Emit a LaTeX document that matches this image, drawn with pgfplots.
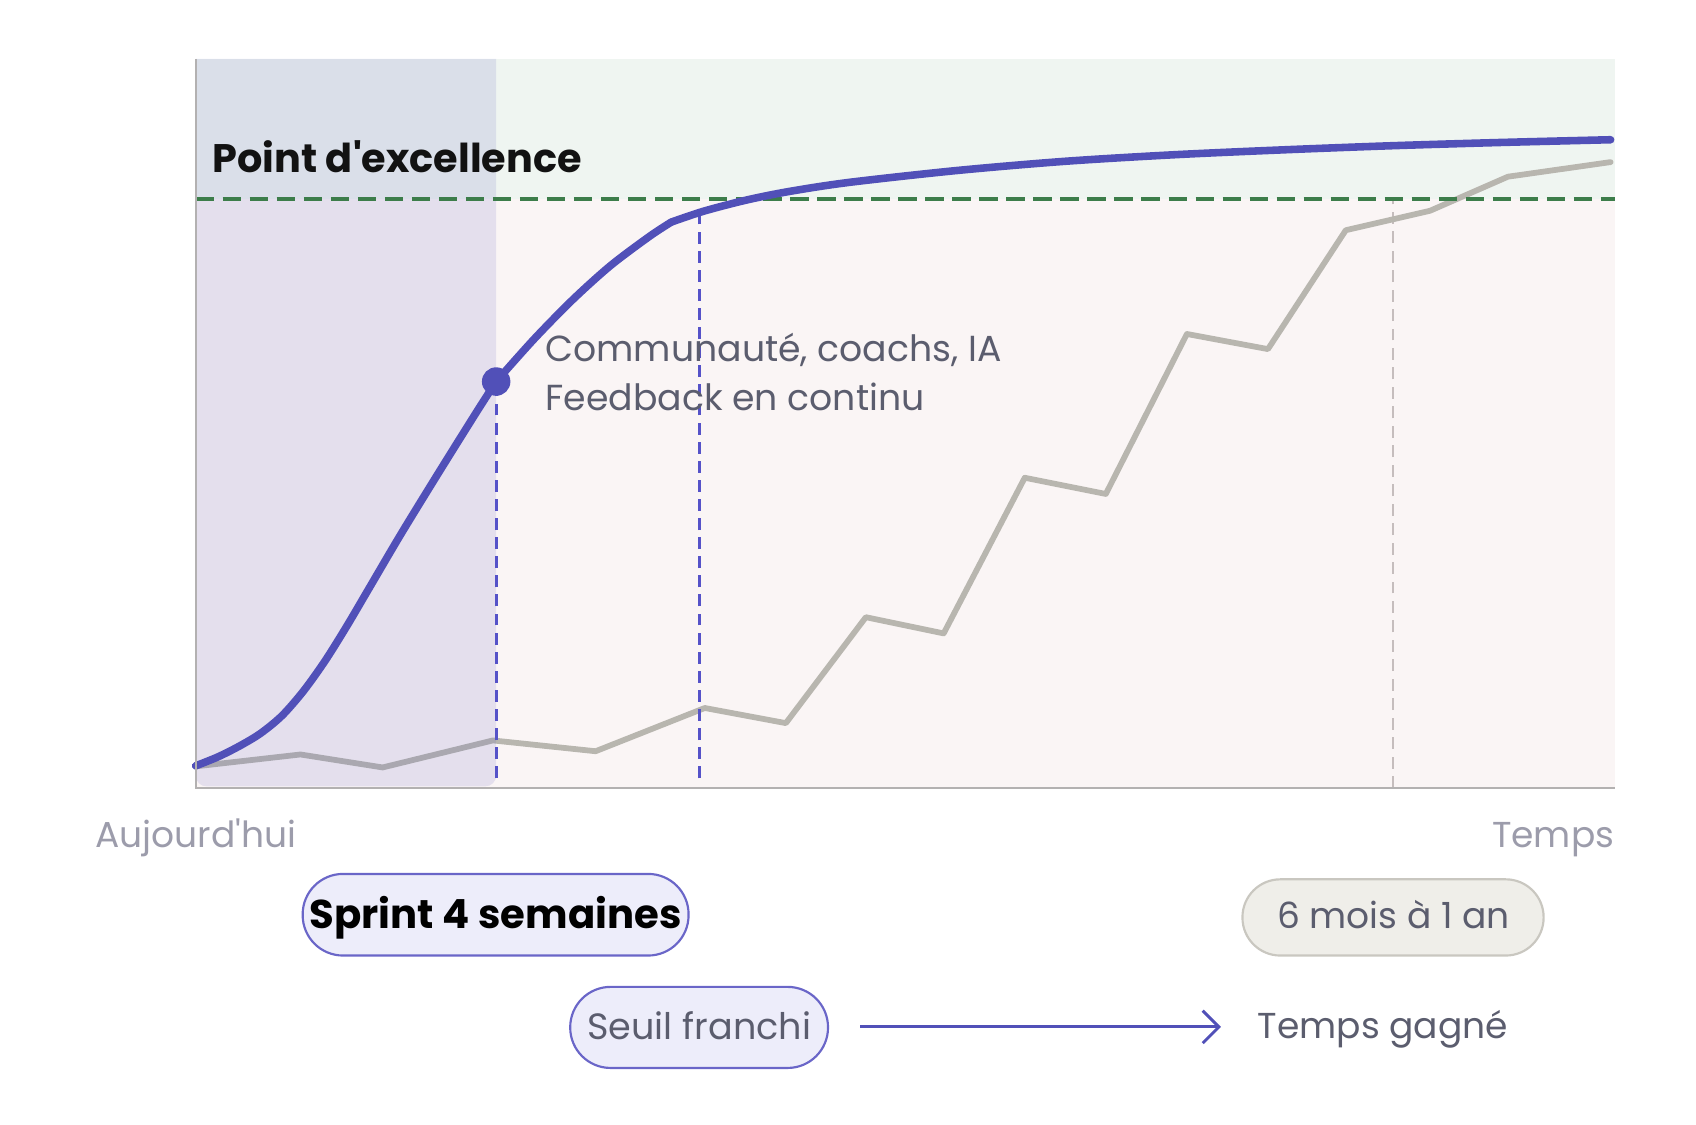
\documentclass[border=0pt]{standalone}
\usepackage{pgfplots}
\pgfplotsset{compat=1.18}
\usepackage{fontspec}
\setmainfont{Poppins}
\usetikzlibrary{arrows.meta}
\definecolor{bluec}{HTML}{5150B8}
\definecolor{grayc}{HTML}{B8B6AF}
\definecolor{greenc}{HTML}{3C7D4A}
\definecolor{topbg}{HTML}{EFF5F1}
\definecolor{lowbg}{HTML}{FAF5F5}
\definecolor{axisc}{HTML}{B3B1B1}
\definecolor{txtc}{HTML}{5B5D6E}
\definecolor{lightt}{HTML}{9C9CAB}
\definecolor{pillfill}{HTML}{EDEDFA}
\definecolor{pilldraw}{HTML}{6A66C8}
\definecolor{pill2fill}{HTML}{EFEEE9}
\definecolor{pill2draw}{HTML}{C9C7C0}
\definecolor{vdash}{HTML}{5552C8}
\definecolor{gdash}{HTML}{C5BDBD}
\begin{document}
\begin{tikzpicture}
\path (0,0) rectangle (470.7pt,312pt);
\begin{axis}[
  at={(54.3pt,93.3pt)}, anchor=south west,
  scale only axis, width=393.9pt, height=202.35pt,
  xmin=0, xmax=1313, ymin=0, ymax=674.5,
  hide axis, clip=false,
]
% backgrounds
\fill[lowbg] (axis cs:0,0) rectangle (axis cs:1313,545);
\fill[topbg] (axis cs:0,545) rectangle (axis cs:1313,674.5);
% gray dashed vertical
\draw[gdash, line width=0.6pt, dash pattern=on 3.3pt off 2.1pt] (axis cs:1108,0) -- (axis cs:1108,544);
% gray path
\addplot[grayc, line width=1.6pt, line join=round, line cap=round] coordinates {
(0,20) (97,31) (173,19) (275,44) (370,34) (471,74) (546,60) (620,158) (692,143)
(767,287) (842,272) (917,420) (992,406) (1064,516) (1142,534) (1214,565.5) (1309,579)};
% sprint overlay
\fill[bluec, opacity=0.13] (axis cs:278,674.5) -- (axis cs:0,674.5) {[rounded corners=3pt] -- (axis cs:0,1.5) -- (axis cs:278,1.5)} -- cycle;
% threshold
\draw[greenc, line width=1.1pt, dash pattern=on 5.1pt off 2.4pt] (axis cs:0,545) -- (axis cs:1313,545);
% purple dashed verticals
\draw[vdash, line width=0.75pt, dash pattern=on 3.3pt off 2pt] (axis cs:278,9) -- (axis cs:278,376);
\draw[vdash, line width=0.75pt, dash pattern=on 3.3pt off 2pt] (axis cs:466,9) -- (axis cs:466,531);
% blue curve (three smooth pieces)
\addplot[bluec, line width=2.1pt, smooth, line cap=round] coordinates {
(0,20.5) (20,28.5) (40,38.5) (60,50.5) (80,67) (100,90) (120,118) (140,150) (160,184)
(190,235) (225,292) (260,348) (278,376)};
\addplot[bluec, line width=2.1pt, smooth, line cap=round] coordinates {
(278,376) (313,415.2) (349,451.9) (384,483.4) (420,510.4) (440,523.5)};
\addplot[bluec, line width=2.1pt, smooth, line cap=round] coordinates {
(440,523.5) (470,533.6) (510,544) (550,552) (605,560.3) (705,571.3) (805,579.8) (905,585.8)
(1005,590.3) (1105,594.1) (1205,597.1) (1309,599.7)};
\addplot[only marks, mark=*, mark size=3.75pt, bluec] coordinates {(278,376)};
% axis lines
\draw[axisc, line width=0.6pt] (axis cs:0,674.5) -- (axis cs:0,0) -- (axis cs:1313,0);
\end{axis}
\begin{scope}[x=0.3pt,y=0.3pt]
\node[anchor=base west, inner sep=0, font=\fontsize{11.05}{13}\selectfont\bfseries, text=black!93] at (196,880) {Point d\textquotesingle excellence};
\node[anchor=base west, inner sep=0, font=\fontsize{10.05}{12}\selectfont, text=txtc] at (504,706) {Communauté, coachs, IA};
\node[anchor=base west, inner sep=0, font=\fontsize{10.05}{12}\selectfont, text=txtc] at (504,660) {Feedback en continu};
\node[anchor=base, inner sep=0, font=\fontsize{10}{12}\selectfont, text=lightt] at (181,256) {Aujourd\textquotesingle hui};
\node[anchor=base east, inner sep=0, font=\fontsize{10}{12}\selectfont, text=lightt] at (1494,256) {Temps};
% pills
\draw[pilldraw, fill=pillfill, line width=0.6pt, rounded corners=11.2pt] (280,156) rectangle (637,231.5);
\node[anchor=base, inner sep=0, font=\fontsize{11.15}{14}\selectfont\bfseries, text=black] at (458.5,181) {Sprint 4 semaines};
\draw[pill2draw, fill=pill2fill, line width=0.6pt, rounded corners=10.5pt] (1149.4,156) rectangle (1428,226.5);
\node[anchor=base, inner sep=0, font=\fontsize{10}{12}\selectfont, text=txtc] at (1289,181) {6 mois à 1 an};
\draw[pilldraw, fill=pillfill, line width=0.6pt, rounded corners=11.2pt] (527.5,52) rectangle (766,127);
\node[anchor=base, inner sep=0, font=\fontsize{10.15}{12}\selectfont, text=txtc] at (646.8,78) {Seuil franchi};
\draw[bluec, line width=0.8pt, -{Straight Barb[length=4.5pt, width=9pt, line width=0.8pt]}] (796,90) -- (1129.5,90);
\node[anchor=base west, inner sep=0, font=\fontsize{10}{12}\selectfont, text=txtc] at (1163,79.5) {Temps gagné};
\end{scope}
\end{tikzpicture}
\end{document}
